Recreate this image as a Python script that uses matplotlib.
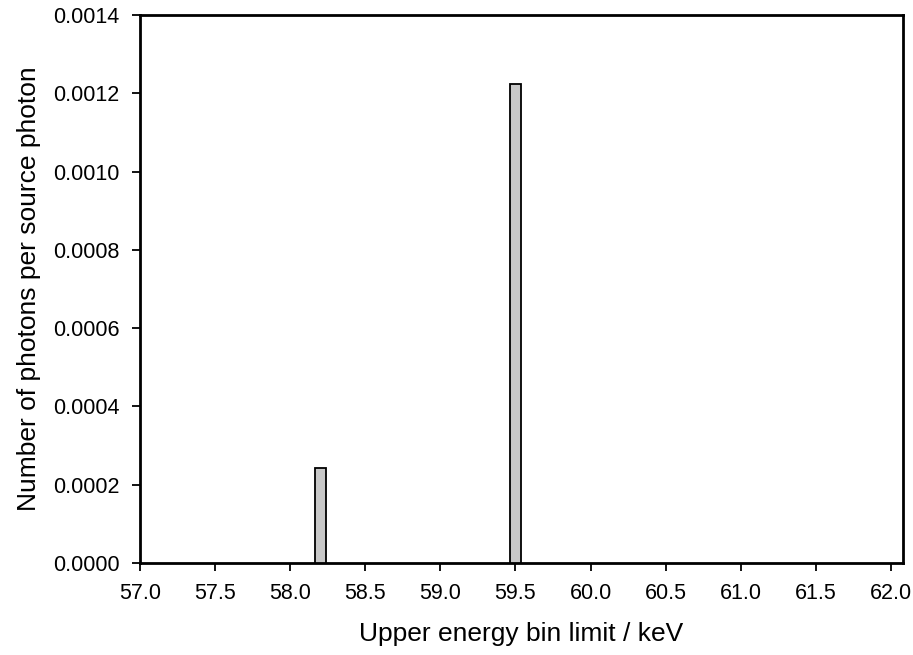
import matplotlib.pyplot as plt
import numpy as np

# upper bin limits (keV) and photon yield per source photon
energies = [58.2, 59.5]
counts = [0.000243, 0.001224]
x_ticks = np.arange(57.0, 62.01, 0.5)
y_ticks = np.arange(0.0, 0.00141, 0.0002)

plt.rcParams['font.family'] = ['Liberation Sans', 'DejaVu Sans']

fig = plt.figure(figsize=(9.13, 6.55), dpi=100)
ax = fig.add_axes([0.1533, 0.1405, 0.8357, 0.8365])

ax.bar(energies, counts, width=0.072, color='#c8c8c8', edgecolor='black', linewidth=1.3, zorder=3)

ax.set_xlim(57.0, 62.08)
ax.set_ylim(0.0, 0.0014)
ax.set_xticks(x_ticks)
ax.set_xticklabels([f'{v:.1f}' for v in x_ticks])
ax.set_yticks(y_ticks)
ax.set_yticklabels([f'{v:.4f}' for v in y_ticks])

for s in ax.spines.values():
    s.set_linewidth(2)
ax.tick_params(direction='out', length=6, width=1.3, labelsize=15.5, pad=8.5)

ax.set_xlabel('Upper energy bin limit / keV', fontsize=19, labelpad=13)
ax.set_ylabel('Number of photons per source photon', fontsize=19, labelpad=9)

fig.savefig('out.png', dpi=100)
